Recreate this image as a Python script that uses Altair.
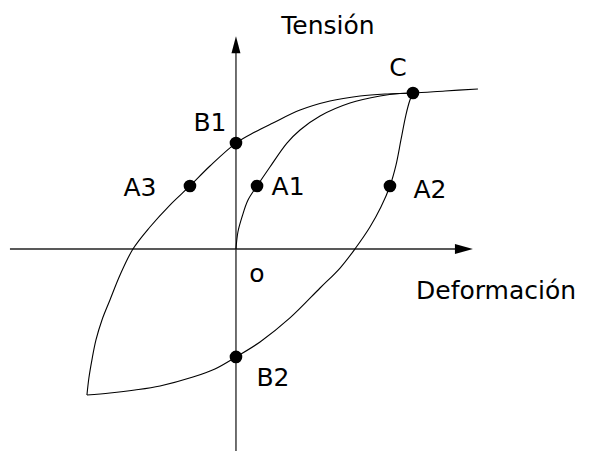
import altair as alt
import pandas as pd

# ---- data (strain, stress), normalised so that point C = (1, 1) ----
virgin_x = [0.0, 0.011, 0.034, 0.068, 0.119, 0.192, 0.288, 0.362, 0.475, 0.644, 0.814, 0.927, 1.0]
virgin_y = [0.0, 0.109, 0.205, 0.314, 0.404, 0.526, 0.679, 0.763, 0.853, 0.936, 0.981, 0.997, 1.0]

upper_x = [1.367, 1.181, 1.0, 0.842, 0.701, 0.531, 0.362, 0.209, 0.107, 0.0, -0.147, -0.260,
           -0.373, -0.486, -0.582, -0.655, -0.712, -0.757, -0.791, -0.814, -0.831, -0.842]
upper_y = [1.026, 1.013, 1.0, 0.994, 0.981, 0.949, 0.891, 0.808, 0.750, 0.679, 0.532, 0.404,
           0.282, 0.141, 0.0, -0.167, -0.327, -0.455, -0.583, -0.712, -0.827, -0.936]

lower_x = [-0.842, -0.712, -0.571, -0.429, -0.243, -0.119, 0.0, 0.136, 0.305, 0.475, 0.588,
           0.672, 0.757, 0.819, 0.870, 0.904, 0.932, 0.960, 0.983, 1.0]
lower_y = [-0.936, -0.923, -0.904, -0.878, -0.821, -0.769, -0.692, -0.596, -0.442, -0.250, -0.122,
           0.0, 0.141, 0.269, 0.404, 0.538, 0.699, 0.859, 0.955, 1.0]

point_names = ["A1", "A2", "A3", "B1", "B2", "C"]
point_x = [0.119, 0.870, -0.260, 0.0, 0.0, 1.0]
point_y = [0.404, 0.404, 0.404, 0.679, -0.692, 1.0]

axis_x_range = [-1.277, 1.30]   # horizontal axis (Deformación)
axis_y_range = [-1.301, 1.30]   # vertical axis (Tensión)
x_title = "Deformación"
y_title = "Tensión"
origin_label = "o"

# ---- tables ----
rows = []
for name, xs, ys in [("virgin", virgin_x, virgin_y), ("upper", upper_x, upper_y), ("lower", lower_x, lower_y)]:
    for i, (a, b) in enumerate(zip(xs, ys)):
        rows.append({"branch": name, "idx": i, "x": a, "y": b})
curves = pd.DataFrame(rows)
points = pd.DataFrame({"name": point_names, "x": point_x, "y": point_y})
axes_df = pd.DataFrame({
    "x": [axis_x_range[0], 0.0], "x2": [axis_x_range[1], 0.0],
    "y": [0.0, axis_y_range[0]], "y2": [0.0, axis_y_range[1]],
})

xs = alt.Scale(domain=[-1.288, 1.955], nice=False, zero=False)
ys = alt.Scale(domain=[-1.295, 1.545], nice=False, zero=False)
X = lambda f="x": alt.X(f"{f}:Q", scale=xs, axis=None)
Y = lambda f="y": alt.Y(f"{f}:Q", scale=ys, axis=None)

axis_rules = alt.Chart(axes_df).mark_rule(color="#222", strokeWidth=1.3).encode(
    x=X(), x2="x2:Q", y=Y(), y2="y2:Q")

up_arrow = alt.Chart(pd.DataFrame({"x": [0.0], "y": [1.31]})).mark_point(
    shape="M0,-1L0.53,1L-0.53,1Z", filled=True, color="black", opacity=1, size=289, strokeWidth=0
).encode(x=X(), y=Y())
right_arrow = alt.Chart(pd.DataFrame({"x": [1.288], "y": [0.0]})).mark_point(
    shape="M1,0L-1,-0.55L-1,0.55Z", filled=True, color="black", opacity=1, size=324, strokeWidth=0
).encode(x=X(), y=Y())

lines = alt.Chart(curves).mark_line(color="black", strokeWidth=1.1, interpolate="catmull-rom").encode(
    x=X(), y=Y(), detail="branch:N", order="idx:Q")

dots = alt.Chart(points).mark_circle(color="black", opacity=1, size=160).encode(x=X(), y=Y())

FONT = "DejaVu Sans"
offsets = {"A1": (31, 1), "A2": (40, 4), "A3": (-50, 2), "B1": (-26, -20), "B2": (37, 21), "C": (-15, -25)}
label_layers = []
for name, px, py in zip(point_names, point_x, point_y):
    dx, dy = offsets[name]
    label_layers.append(
        alt.Chart(pd.DataFrame({"x": [px], "y": [py], "t": [name]})).mark_text(
            font=FONT, fontSize=25, color="black", dx=dx, dy=dy, align="center", baseline="middle"
        ).encode(x=X(), y=Y(), text="t:N"))

label_layers.append(alt.Chart(pd.DataFrame({"x": [0.0], "y": [0.0], "t": [origin_label]})).mark_text(
    font=FONT, fontSize=25, color="black", dx=21, dy=25, align="center", baseline="middle"
).encode(x=X(), y=Y(), text="t:N"))
label_layers.append(alt.Chart(pd.DataFrame({"x": [0.0], "y": [axis_y_range[1]], "t": [y_title]})).mark_text(
    font=FONT, fontSize=25, color="black", dx=92, dy=-20, align="center", baseline="middle"
).encode(x=X(), y=Y(), text="t:N"))
label_layers.append(alt.Chart(pd.DataFrame({"x": [axis_x_range[1]], "y": [0.0], "t": [x_title]})).mark_text(
    font=FONT, fontSize=25, color="black", dx=30, dy=42, align="center", baseline="middle"
).encode(x=X(), y=Y(), text="t:N"))

chart = alt.layer(axis_rules, up_arrow, right_arrow, lines, dots, *label_layers).properties(
    width=574, height=443, padding=0, autosize="none", background="white"
).configure_view(stroke=None)

chart.save("out.html", embed_options={"renderer": "svg", "actions": False})
